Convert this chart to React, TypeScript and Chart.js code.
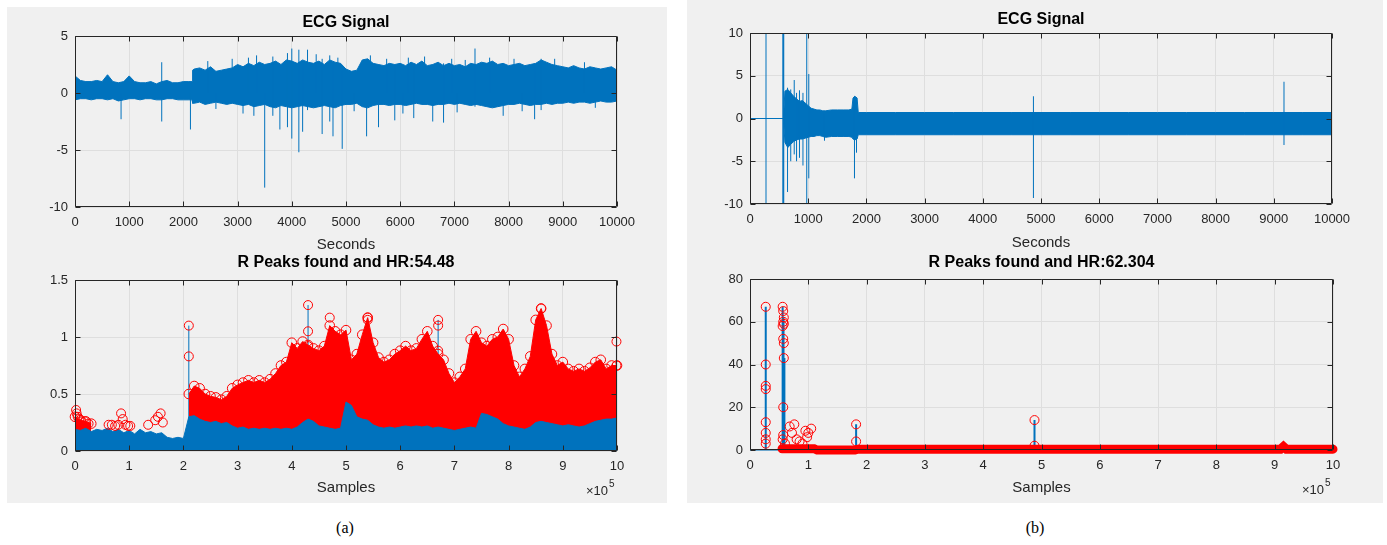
import React, { useEffect, useRef } from "react";
import { Chart, registerables } from "chart.js";
Chart.register(...registerables);

const BLUE = "#0072bd";
const RED = "#ff0000";
const GRID = "#dedede";
const TXT = "#262626";
const FONT = "'Liberation Sans', Arial, Helvetica, sans-serif";

// ---------- (a) ECG signal: envelope of the dense trace (seconds, mV) ----------
const ecgA_t = [0, 100, 200, 300, 400, 500, 600, 700, 800, 900, 1000, 1100, 1200, 1300, 1400, 1500, 1600, 1700, 1800, 1900, 2000, 2100, 2160, 2170,
  2200, 2300, 2400, 2500, 2600, 2700, 2800, 2900,
  3000, 3100, 3200, 3300, 3400, 3500, 3600, 3700, 3800, 3900,
  4000, 4100, 4200, 4300, 4400, 4500, 4600, 4700, 4800, 4900,
  5000, 5100, 5200, 5300, 5400, 5500, 5600, 5700, 5800, 5900,
  6000, 6100, 6200, 6300, 6400, 6500, 6600, 6700, 6800, 6900,
  7000, 7100, 7200, 7300, 7400, 7500, 7600, 7700, 7800, 7900,
  8000, 8100, 8200, 8300, 8400, 8500, 8600, 8700, 8800, 8900,
  9000, 9100, 9200, 9300, 9400, 9500, 9600, 9700, 9800, 9900, 10000];
const ecgA_hi = [1.5, 1.1, 1.0, 1.0, 1.1, 1.0, 1.6, 1.0, 0.9, 1.0, 1.5, 1.0, 0.9, 0.9, 1.0, 0.8, 1.0, 1.1, 0.9, 0.9, 1.0, 1.0, 1.0, 2.0,
  2.1, 2.2, 2.0, 2.3, 1.9, 2.0, 2.1, 2.2,
  2.5, 2.3, 2.6, 2.4, 2.7, 2.5, 2.6, 2.8, 2.5, 2.9,
  2.8, 2.6, 2.9, 2.7, 2.6, 2.8, 2.5, 2.9, 2.7, 2.6,
  2.1, 1.9, 2.0, 2.9, 3.0, 2.6, 2.5, 2.4, 2.6, 2.5,
  2.6, 2.4, 2.7, 2.5, 2.8, 2.4, 2.5, 2.7, 2.4, 2.6,
  2.4, 2.5, 2.3, 2.6, 2.5, 2.7, 2.6, 2.8, 2.5, 2.6,
  2.4, 2.5, 2.6, 2.4, 2.5, 2.6, 2.9, 2.7, 2.5, 2.4,
  2.3, 2.2, 2.4, 2.2, 2.1, 2.3, 2.2, 2.1, 2.2, 2.3, 2.0];
const ecgA_lo = [-0.6, -0.5, -0.5, -0.6, -0.5, -0.5, -0.6, -0.5, -0.7, -0.6, -0.5, -0.5, -0.6, -0.5, -0.5, -0.6, -0.6, -0.5, -0.5, -0.6, -0.6, -0.6, -0.6, -0.9,
  -0.9, -0.8, -1.0, -0.9, -0.8, -0.9, -1.0, -0.9,
  -1.0, -1.1, -1.0, -1.2, -1.1, -1.0, -1.2, -1.3, -1.1, -1.2,
  -1.3, -1.2, -1.1, -1.2, -1.3, -1.2, -1.1, -1.2, -1.3, -1.1,
  -1.0, -1.0, -0.9, -1.2, -1.3, -1.1, -1.0, -1.0, -1.1, -1.0,
  -1.0, -1.1, -1.0, -0.9, -1.0, -1.0, -1.1, -1.0, -1.0, -0.9,
  -1.0, -0.9, -1.0, -1.1, -1.0, -1.1, -1.2, -1.3, -1.2, -1.1,
  -1.0, -1.0, -0.9, -1.0, -1.1, -1.0, -1.0, -0.9, -1.0, -0.9,
  -0.9, -0.8, -0.9, -0.8, -0.8, -0.9, -0.8, -0.7, -0.8, -0.8, -0.7];
// isolated spikes of trace (a): time, lowest and highest value of each spike
const ecgA_spikeT = [850, 1600, 2130, 2450, 2600, 2900, 3100, 3200, 3300, 3350, 3500, 3650, 3780, 3920, 4000, 4130, 4200, 4290, 4450,
  4560, 4700, 4760, 4850, 4930, 5150, 5380, 5450, 5600, 5750, 5900, 6050, 6150, 6250, 6450, 6600, 6800, 6950, 7050, 7200,
  7380, 7650, 7900, 8100, 8250, 8480, 8600, 8850, 9400, 9600];
const ecgA_spikeLo = [-2.3, -2.5, -3.2, 0, -1.4, 0, -1.8, 0, -2.0, 0, -8.3, -2.0, -3.2, -3.0, -4.0, -5.2, -3.4, -1.5, 0,
  -3.6, -2.5, -3.8, 0, -4.9, -1.6, -3.8, 0, -3.0, 0, -2.4, -1.8, 0, -2.2, 0, -2.5, -2.6, 0, -1.7, 0,
  -1.2, 0, -2.0, 0, -1.6, -2.3, -1.5, 0, 0, -1.3];
const ecgA_spikeHi = [0, 2.7, 0, 2.8, 0, 3.0, 0, 3.1, 0, 3.3, 0, 3.2, 1.5, 3.5, 3.9, 3.8, 2.5, 3.8, 3.4,
  3.0, 3.3, 2.5, 3.1, 2.0, 0, 2.5, 3.3, 2.5, 3.0, 2.5, 0, 3.1, 2.6, 3.2, 2.5, 2.6, 3.0, 0, 2.9,
  3.9, 3.1, 2.5, 3.0, 0, 2.3, 3.0, 3.0, 2.7, 0];

// ---------- (b) ECG signal ----------
const ecgB_t = [0, 575, 600, 650, 700, 750, 800, 850, 900, 950, 1000, 1050, 1100, 1150, 1200, 1250, 1300, 1400, 1500, 1600, 1700, 1750, 1770, 1800, 1840, 1860,
  2000, 2500, 3000, 3500, 4000, 4500, 5000, 5500, 6000, 6500, 7000, 7500, 8000, 8500, 9000, 9500, 10000];
const ecgB_hi = [0, 0, 3.2, 3.4, 3.0, 2.6, 2.3, 2.0, 2.1, 1.8, 1.5, 1.2, 1.1, 1.0, 1.0, 0.9, 0.9, 1.0, 1.0, 1.0, 1.0, 1.1, 2.4, 2.6, 2.4, 0.7,
  0.7, 0.7, 0.7, 0.7, 0.7, 0.7, 0.7, 0.7, 0.7, 0.7, 0.7, 0.7, 0.7, 0.7, 0.7, 0.7, 0.7];
const ecgB_lo = [0, 0, -2.8, -3.4, -3.0, -2.7, -2.5, -2.4, -2.4, -2.3, -2.2, -2.1, -2.1, -2.0, -2.0, -2.1, -2.2, -2.1, -2.1, -2.1, -2.1, -2.2, -2.4, -2.5, -2.4, -1.9,
  -1.9, -1.9, -1.9, -1.9, -1.9, -1.9, -1.9, -1.9, -1.9, -1.9, -1.9, -1.9, -1.9, -1.9, -1.9, -1.9, -1.9];
const ecgB_spikeT = [275, 565, 572, 580, 645, 700, 760, 800, 850, 910, 975, 1010, 1280, 1795, 1830, 4870, 9175];
const ecgB_spikeLo = [-10, -10, -10, -10, -8.6, -5.0, -4.2, -5.0, -4.6, -5.5, -10, -7.0, -2.6, -7.0, -4.0, -9.3, -3.1];
const ecgB_spikeHi = [10, 10, 10, 10, 3.6, 3.4, 4.5, 3.0, 3.3, 3.0, 10, 5.2, 0.6, 2.6, 2.5, 2.6, 4.3];

// ---------- (a) R peaks (samples in units of 10^5) ----------
const peaksA_x = [0, 0.1, 0.2, 0.3, 0.4, 0.5, 0.6, 0.7, 0.8, 0.9, 1, 1.1, 1.2, 1.3, 1.4, 1.5, 1.6, 1.7, 1.8, 1.9,
  2, 2.1, 2.2, 2.3, 2.4, 2.5, 2.6, 2.7, 2.8, 2.9, 3, 3.1, 3.2, 3.3, 3.4, 3.5, 3.6, 3.7, 3.8, 3.9,
  4, 4.1, 4.2, 4.3, 4.4, 4.5, 4.6, 4.7, 4.8, 4.9, 5, 5.1, 5.2, 5.3, 5.4, 5.5, 5.6, 5.7, 5.8, 5.9,
  6, 6.1, 6.2, 6.3, 6.4, 6.5, 6.6, 6.7, 6.8, 6.9, 7, 7.1, 7.2, 7.3, 7.4, 7.5, 7.6, 7.7, 7.8, 7.9,
  8, 8.1, 8.2, 8.3, 8.4, 8.5, 8.6, 8.7, 8.8, 8.9, 9, 9.1, 9.2, 9.3, 9.4, 9.5, 9.6, 9.7, 9.8, 9.9, 10];
const peaksA_blue = [0.19, 0.18, 0.20, 0.17, 0.19, 0.18, 0.20, 0.17, 0.19, 0.16, 0.18, 0.15, 0.19, 0.16, 0.17, 0.15, 0.16, 0.12, 0.11, 0.12,
  0.11, 0.30, 0.31, 0.28, 0.26, 0.25, 0.26, 0.24, 0.25, 0.22, 0.20, 0.21, 0.19, 0.20, 0.19, 0.20, 0.19, 0.20, 0.19, 0.20,
  0.19, 0.21, 0.25, 0.28, 0.26, 0.22, 0.21, 0.20, 0.19, 0.20, 0.43, 0.40, 0.30, 0.28, 0.27, 0.23, 0.21, 0.20, 0.21, 0.20,
  0.21, 0.22, 0.21, 0.22, 0.21, 0.22, 0.20, 0.21, 0.20, 0.19, 0.18, 0.19, 0.20, 0.21, 0.20, 0.33, 0.32, 0.30, 0.28, 0.24,
  0.22, 0.21, 0.20, 0.19, 0.21, 0.25, 0.26, 0.25, 0.24, 0.23, 0.22, 0.23, 0.22, 0.21, 0.22, 0.24, 0.26, 0.27, 0.28, 0.28, 0.29];
const peaksA_red = [0.30, 0.27, 0.26, 0.24, null, null, null, null, null, null, null, null, null, null, null, null, null, null, null, null,
  null, 0.50, 0.57, 0.55, 0.50, 0.48, 0.47, 0.45, 0.48, 0.55, 0.58, 0.60, 0.62, 0.60, 0.62, 0.60, 0.63, 0.68, 0.75, 0.78,
  0.95, 0.90, 0.96, 0.93, 0.90, 0.88, 0.92, 1.10, 1.05, 1.02, 1.06, 0.80, 0.85, 1.02, 1.17, 0.95, 0.82, 0.78, 0.80, 0.85,
  0.88, 0.92, 0.88, 0.90, 0.98, 1.05, 0.92, 0.85, 0.80, 0.68, 0.60, 0.65, 0.72, 0.98, 1.05, 0.95, 0.92, 0.98, 1.00, 1.07,
  0.98, 0.75, 0.65, 0.72, 0.83, 1.15, 1.25, 1.10, 0.85, 0.75, 0.78, 0.72, 0.70, 0.72, 0.70, 0.73, 0.78, 0.80, 0.72, 0.75, 0.75];
const peaksA_dotX = [0.02, 0.03, 0.05, 0.08, 0.12, 0.18, 0.25, 0.62, 0.68, 0.74, 0.8, 0.85, 0.88, 0.93, 0.98, 1.02, 1.35, 1.48, 1.53, 1.58, 1.62,
  2.1, 2.1, 4.3, 4.3, 4.3, 4.7, 5.4, 5.4, 6.7, 6.7, 6.7, 8.6, 9.99, 9.99];
const peaksA_dotY = [0.36, 0.33, 0.30, 0.28, 0.26, 0.26, 0.24, 0.23, 0.23, 0.22, 0.23, 0.33, 0.28, 0.23, 0.22, 0.22, 0.23, 0.27, 0.30, 0.33, 0.25,
  1.10, 0.83, 1.28, 1.05, 0.92, 1.17, 1.17, 1.15, 1.15, 1.10, 0.88, 1.25, 0.96, 0.75];
const peaksA_stemX = [2.1, 4.3, 6.7, 9.99];
const peaksA_stemTop = [1.10, 1.28, 1.15, 0.96];

// ---------- (b) R peaks ----------
const peaksB_baseX = [0, 0.56];
const peaksB_baseY = [0, 0];
const peaksB_bandX = [0.55, 1.1, 1.15, 1.8, 1.85, 9.1, 9.15, 9.2, 10.0];
const peaksB_bandY = [0.6, 0.6, 0.0, 0.0, 0.4, 0.4, 1.6, 0.4, 0.4];
const peaksB_stemX = [0.27, 0.56, 0.575, 0.59, 1.82, 4.88];
const peaksB_stemTop = [67, 67, 62, 43, 12, 14];
const peaksB_dotX = [0.27, 0.27, 0.27, 0.27, 0.27, 0.27, 0.27, 0.27,
  0.56, 0.57, 0.58, 0.57, 0.58, 0.56, 0.57, 0.58, 0.58, 0.57, 0.57, 0.56, 0.60,
  0.68, 0.76, 0.72, 0.80, 0.85, 0.95, 1.00, 1.05, 0.98, 0.90,
  1.82, 1.82, 4.88, 4.88];
const peaksB_dotY = [67, 40, 30, 28.5, 13, 8, 5, 3,
  67, 65, 62, 60, 59, 58, 52, 50, 43, 20, 7, 5, 3,
  11, 12, 8, 5, 4, 9, 8, 10, 6, 3,
  12, 4, 14, 2];

// ---------- helpers ----------
const pts = (xs: number[], ys: (number | null)[]) => xs.map((x, i) => ({ x, y: ys[i] }));
const stemPts = (xs: number[], lo: number[], hi: number[]) =>
  xs.flatMap((x, i) => [{ x, y: lo[i] }, { x, y: hi[i] }, { x, y: null }]);

type Frame = {
  cx: number; cy: number; cw: number; ch: number;
  l: number; t: number; r: number; b: number;
  titleY: number; xTitleY: number;
};

const FR_TL: Frame = { cx: 10, cy: 5, cw: 657, ch: 255, l: 75, t: 36, r: 617, b: 207, titleY: 23, xTitleY: 245 };
const FR_BL: Frame = { cx: 10, cy: 250, cw: 657, ch: 252, l: 75, t: 280, r: 617, b: 451, titleY: 263, xTitleY: 488 };
const FR_TR: Frame = { cx: 690, cy: 0, cw: 694, ch: 258, l: 750, t: 33, r: 1332, b: 204, titleY: 20, xTitleY: 243 };
const FR_BR: Frame = { cx: 690, cy: 250, cw: 694, ch: 252, l: 750, t: 279, r: 1333, b: 450, titleY: 263, xTitleY: 488 };

const TITLE_SIZE = 16, TICK_SIZE = 13, LABEL_SIZE = 15;

const axesBox = {
  id: "axesBox",
  afterDatasetsDraw(chart: any) {
    const { ctx, chartArea, scales } = chart;
    const { left, top, right, bottom } = chartArea;
    ctx.save();
    ctx.strokeStyle = TXT;
    ctx.lineWidth = 1;
    const L = Math.round(left) + 0.5, R = Math.round(right) - 0.5, T = Math.round(top) + 0.5, B = Math.round(bottom) - 0.5;
    ctx.beginPath();
    ctx.rect(L, T, R - L, B - T);
    const tl = 5;
    scales.x.ticks.forEach((tk: any) => {
      const p = Math.round(scales.x.getPixelForValue(tk.value)) + 0.5;
      ctx.moveTo(p, B); ctx.lineTo(p, B - tl);
      ctx.moveTo(p, T); ctx.lineTo(p, T + tl);
    });
    scales.y.ticks.forEach((tk: any) => {
      const p = Math.round(scales.y.getPixelForValue(tk.value)) + 0.5;
      ctx.moveTo(L, p); ctx.lineTo(L + tl, p);
      ctx.moveTo(R, p); ctx.lineTo(R - tl, p);
    });
    ctx.stroke();
    ctx.restore();
  },
};

const expLabel = {
  id: "expLabel",
  afterDraw(chart: any) {
    const { ctx, chartArea } = chart;
    ctx.save();
    ctx.fillStyle = TXT;
    ctx.textBaseline = "middle";
    ctx.textAlign = "right";
    ctx.font = `${TICK_SIZE}px ${FONT}`;
    const x = chartArea.right - 9;
    const y = chartArea.bottom + 40;
    ctx.fillText("\u00d710", x, y);
    ctx.textAlign = "left";
    ctx.font = `${TICK_SIZE - 3}px ${FONT}`;
    ctx.fillText("5", x + 1, y - 7);
    ctx.restore();
  },
};

function buildOptions(f: Frame, title: string, xTitle: string,
  xMin: number, xMax: number, xStep: number, yMin: number, yMax: number, yStep: number) {
  const tLH = TITLE_SIZE * 1.2;
  const aLH = LABEL_SIZE * 1.2;
  return {
    responsive: false,
    animation: false as const,
    devicePixelRatio: 1,
    events: [] as any[],
    layout: { padding: { left: 0, top: 0, bottom: 0, right: f.cx + f.cw - f.r } },
    plugins: {
      legend: { display: false },
      tooltip: { enabled: false },
      title: {
        display: true,
        text: title,
        fullSize: false,
        color: "#000",
        font: { family: FONT, size: TITLE_SIZE, weight: "bold" as const },
        padding: { top: f.titleY - f.cy - tLH / 2, bottom: f.t - f.titleY - tLH / 2 },
      },
    },
    scales: {
      x: {
        type: "linear" as const,
        min: xMin, max: xMax,
        afterFit: (s: any) => { s.height = f.cy + f.ch - f.b; },
        grid: { color: GRID, drawTicks: false },
        border: { display: false },
        ticks: {
          stepSize: xStep, padding: 8, color: TXT, maxRotation: 0, autoSkip: false,
          font: { family: FONT, size: TICK_SIZE },
          callback: (v: any) => String(v),
        },
        title: {
          display: true, text: xTitle, color: TXT,
          font: { family: FONT, size: LABEL_SIZE },
          padding: { top: 0, bottom: f.cy + f.ch - f.xTitleY - aLH / 2 },
        },
      },
      y: {
        type: "linear" as const,
        min: yMin, max: yMax,
        afterFit: (s: any) => { s.width = f.l - f.cx; },
        grid: { color: GRID, drawTicks: false },
        border: { display: false },
        ticks: {
          stepSize: yStep, padding: 7, color: TXT,
          font: { family: FONT, size: TICK_SIZE },
          callback: (v: any) => String(v),
        },
      },
    },
  };
}

const lineDS = (data: any[], extra: any = {}) => ({
  data, borderColor: BLUE, backgroundColor: BLUE, borderWidth: 1, pointRadius: 0,
  tension: 0, spanGaps: false, fill: false, clip: 0, ...extra,
});

const circleDS = (data: any[], order: number) => ({
  data, showLine: false, pointRadius: 4.5, pointStyle: "circle", pointBorderColor: RED,
  pointBackgroundColor: "rgba(0,0,0,0)", pointBorderWidth: 1, order,
  clip: { left: 6, top: 0, right: 6, bottom: 6 },
});

function cfgEcgA(): any {
  return {
    type: "line",
    data: {
      datasets: [
        lineDS(stemPts(ecgA_spikeT, ecgA_spikeLo, ecgA_spikeHi), { order: 0 }),
        lineDS(pts(ecgA_t, ecgA_hi), { fill: "+1", order: 1 }),
        lineDS(pts(ecgA_t, ecgA_lo), { order: 2 }),
      ],
    },
    options: buildOptions(FR_TL, "ECG Signal", "Seconds", 0, 10000, 1000, -10, 5, 5),
    plugins: [axesBox],
  };
}

function cfgEcgB(): any {
  return {
    type: "line",
    data: {
      datasets: [
        lineDS(stemPts(ecgB_spikeT, ecgB_spikeLo, ecgB_spikeHi), { order: 0 }),
        lineDS(pts(ecgB_t, ecgB_hi), { fill: "+1", order: 1 }),
        lineDS(pts(ecgB_t, ecgB_lo), { order: 2 }),
      ],
    },
    options: buildOptions(FR_TR, "ECG Signal", "Seconds", 0, 10000, 1000, -10, 10, 5),
    plugins: [axesBox],
  };
}

function cfgPeaksA(): any {
  return {
    type: "line",
    data: {
      datasets: [
        circleDS(pts(peaksA_dotX, peaksA_dotY), 0),
        lineDS(pts(peaksA_x, peaksA_blue), { fill: "origin", order: 1 }),
        {
          data: pts(peaksA_x, peaksA_red), borderColor: RED, backgroundColor: RED, borderWidth: 1,
          fill: "origin", tension: 0, spanGaps: false, order: 2,
          pointRadius: 4.8, pointStyle: "circle", pointBorderColor: RED,
          pointBackgroundColor: "rgba(0,0,0,0)", pointBorderWidth: 1,
          clip: { left: 6, top: 0, right: 6, bottom: 0 },
        },
        lineDS(stemPts(peaksA_stemX, peaksA_stemX.map(() => 0), peaksA_stemTop), { order: 3 }),
      ],
    },
    options: buildOptions(FR_BL, "R Peaks found and HR:54.48", "Samples", 0, 10, 1, 0, 1.5, 0.5),
    plugins: [axesBox, expLabel],
  };
}

function cfgPeaksB(): any {
  return {
    type: "line",
    data: {
      datasets: [
        circleDS(pts(peaksB_dotX, peaksB_dotY), 0),
        {
          data: pts(peaksB_bandX, peaksB_bandY), borderColor: RED, borderWidth: 9, pointRadius: 0,
          fill: false, tension: 0, order: 1, borderCapStyle: "round",
          clip: { left: 0, top: 0, right: 6, bottom: 6 },
        },
        lineDS(stemPts(peaksB_stemX, peaksB_stemX.map(() => 0), peaksB_stemTop), { order: 2, borderWidth: 2 }),
        lineDS(pts(peaksB_baseX, peaksB_baseY), { order: 3, clip: { left: 0, top: 0, right: 0, bottom: 2 } }),
      ],
    },
    options: buildOptions(FR_BR, "R Peaks found and HR:62.304", "Samples", 0, 10, 1, 0, 80, 20),
    plugins: [axesBox, expLabel],
  };
}

const frames = [FR_TL, FR_BL, FR_TR, FR_BR];
const builders = [cfgEcgA, cfgPeaksA, cfgEcgB, cfgPeaksB];

export default function App() {
  const refs = [useRef<HTMLCanvasElement>(null), useRef<HTMLCanvasElement>(null),
    useRef<HTMLCanvasElement>(null), useRef<HTMLCanvasElement>(null)];

  useEffect(() => {
    const charts = builders.map((b, i) => new Chart(refs[i].current as HTMLCanvasElement, b()));
    return () => charts.forEach((c) => c.destroy());
  }, []);

  return (
    <div style={{ position: "absolute", left: 0, top: 0, width: 1387, height: 545, background: "#fff", overflow: "hidden" }}>
      <div style={{ position: "absolute", left: 7, top: 7, width: 660, height: 496, background: "#f0f0f0" }} />
      <div style={{ position: "absolute", left: 687, top: 0, width: 696, height: 503, background: "#f0f0f0" }} />
      {frames.map((f, i) => (
        <canvas key={i} ref={refs[i]} width={f.cw} height={f.ch}
          style={{ position: "absolute", left: f.cx, top: f.cy, width: f.cw, height: f.ch, display: "block" }} />
      ))}
      <div style={{ position: "absolute", left: 315, top: 519, width: 60, textAlign: "center", font: "16px 'Liberation Serif', 'Times New Roman', serif", color: "#000" }}>(a)</div>
      <div style={{ position: "absolute", left: 1005, top: 519, width: 60, textAlign: "center", font: "16px 'Liberation Serif', 'Times New Roman', serif", color: "#000" }}>(b)</div>
    </div>
  );
}
